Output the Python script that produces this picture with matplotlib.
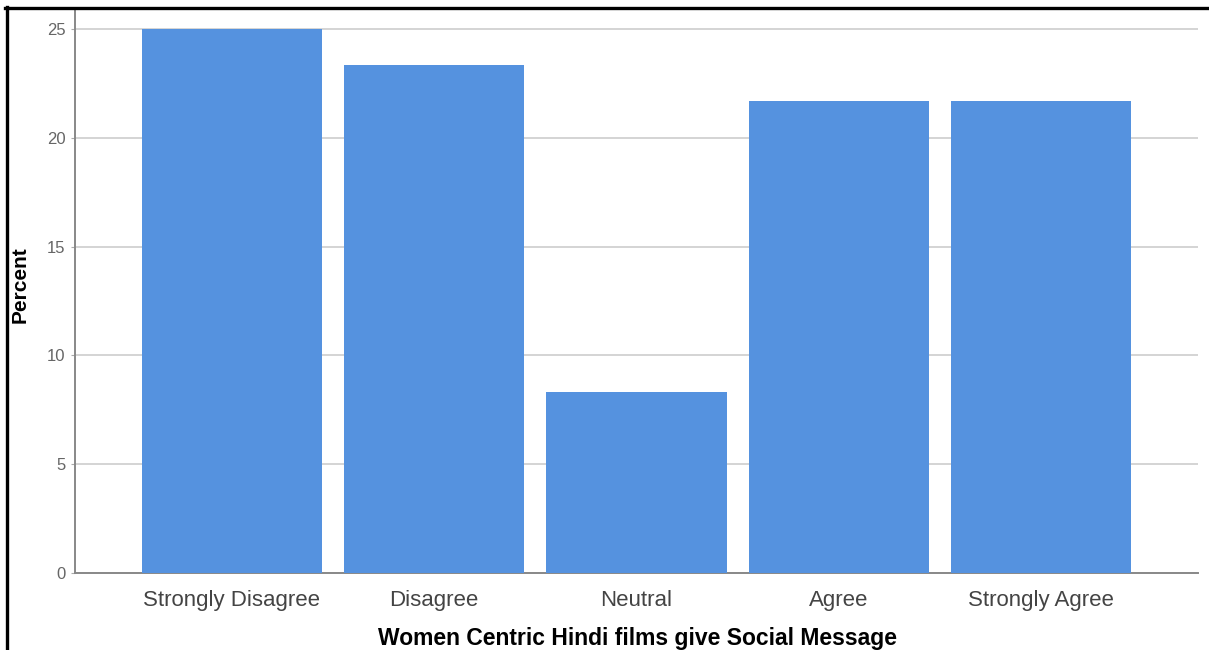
import matplotlib
matplotlib.use("Agg")
import matplotlib.pyplot as plt
from matplotlib.lines import Line2D

plt.rcParams['font.family'] = ['Liberation Sans', 'DejaVu Sans']

categories = ["Strongly Disagree", "Disagree", "Neutral", "Agree", "Strongly Agree"]
percent = [25.00, 23.33, 8.33, 21.67, 21.67]
y_ticks = [0, 5, 10, 15, 20, 25]
x_title = "Women Centric Hindi films give Social Message"
y_title = "Percent"

W, H, DPI = 1209, 650, 100
fig = plt.figure(figsize=(W / DPI, H / DPI), dpi=DPI)
fig.patch.set_facecolor("white")

# axes box in pixel terms: left 75, right 1198, top 10, bottom 573
ax = fig.add_axes([75 / W, 1 - 573 / H, (1198 - 75) / W, (573 - 10) / H])

x = list(range(len(categories)))
ax.bar(x, percent, width=0.89, color="#5592DF", zorder=3)

ax.set_xlim(-0.775, len(categories) - 1 + 0.775)
ax.set_ylim(0, 25.87)
ax.set_yticks(y_ticks)
ax.set_yticklabels([str(t) for t in y_ticks], fontsize=12, color="#666666")
ax.set_xticks(x)
ax.set_xticklabels(categories, fontsize=16, color="#444444")

ax.yaxis.grid(True, color="#d4d4d4", linewidth=1.4, zorder=0)
ax.xaxis.grid(False)

for side in ("top", "right"):
    ax.spines[side].set_visible(False)
for side in ("left", "bottom"):
    ax.spines[side].set_color("#888888")
    ax.spines[side].set_linewidth(1.4)

ax.tick_params(axis="x", length=0, pad=12)
ax.tick_params(axis="y", length=3, color="#aaaaaa", pad=4)

# axis titles placed in figure pixels
ax.set_xlabel(x_title, fontsize=16.5, fontweight="bold")
ax.xaxis.set_label_coords(637 / W, 1 - 639 / H, transform=fig.transFigure)
ax.xaxis.label.set_verticalalignment("center")
ax.set_ylabel(y_title, fontsize=15, fontweight="bold")
ax.yaxis.set_label_coords(20 / W, 1 - 285 / H, transform=fig.transFigure)
ax.yaxis.label.set_verticalalignment("center")

# thin black frame along the left and top edges
fig.add_artist(Line2D([6.5 / W, 6.5 / W], [0, 1 - 7 / H], transform=fig.transFigure,
                      color="black", linewidth=2.4))
fig.add_artist(Line2D([5 / W, 1], [1 - 8 / H, 1 - 8 / H], transform=fig.transFigure,
                      color="black", linewidth=2.4))

fig.savefig("out.png", dpi=DPI)
